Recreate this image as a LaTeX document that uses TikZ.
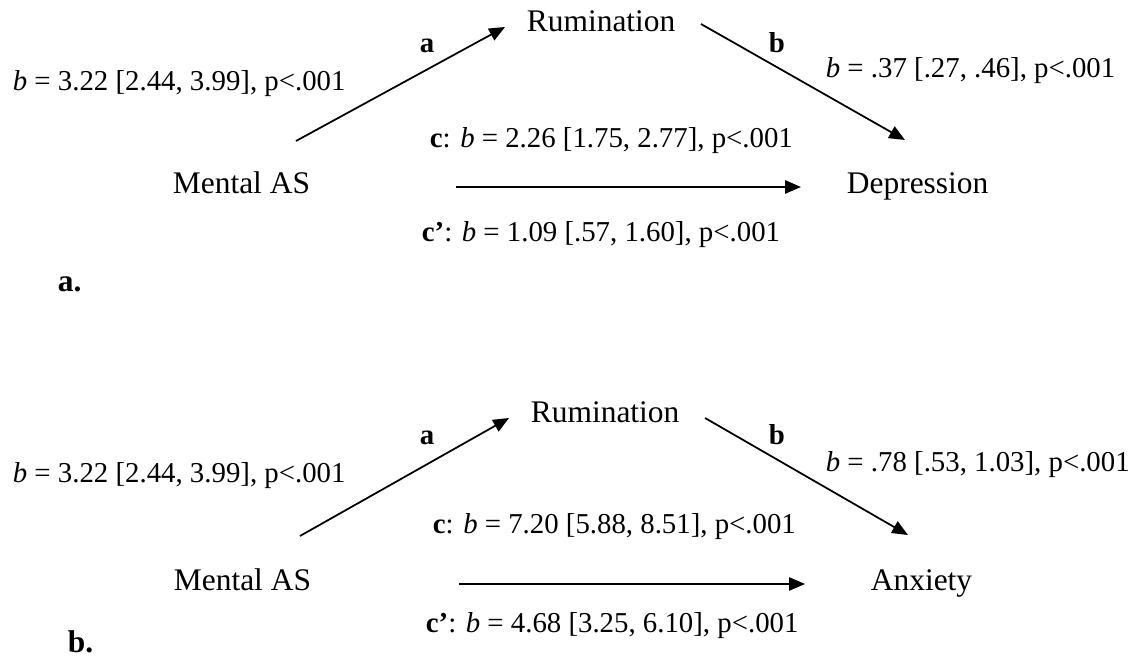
\documentclass[tikz,border=0pt]{standalone}
\usepackage{fontspec}
\setmainfont{Liberation Serif}
\usetikzlibrary{arrows.meta}

\begin{document}
\begin{tikzpicture}[x=0.02cm, y=-0.02cm, >={Triangle[length=9pt,width=7.5pt]}, line width=1pt]

% variable style
\tikzstyle{var} = [
    inner sep=0pt,
    anchor=base west,
    font=\fontsize{17.9}{21}\selectfont
]

% path label style
\tikzstyle{lbl} = [
    inner sep=0pt,
    anchor=base west,
    font=\fontsize{16.4}{19}\selectfont
]

\useasboundingbox (0,0) rectangle (1144,661);

% Panel a: place the nodes.
\node [var] (rum-a) at (526,32) {Rumination};
\node [var] (mas-a) at (172,194) {Mental AS};
\node [var] (dep-a) at (846,194) {Depression};

\node [lbl] (path-a-a) at (419,53) {\textbf{a}};
\node [lbl] (path-b-a) at (768,53) {\textbf{b}};
\node [lbl] (coef-a-a) at (12,91) {\textit{b} = 3.22 [2.44, 3.99], p<.001};
\node [lbl] (coef-b-a) at (825,78) {\textit{b} = .37 [.27, .46], p<.001};
\node [lbl] (coef-c-a) at (429,148) {\textbf{c}: \textit{b} = 2.26 [1.75, 2.77], p<.001};
\node [lbl] (coef-cp-a) at (421,242) {\textbf{c’}: \textit{b} = 1.09 [.57, 1.60], p<.001};
\node [var] (tag-a) at (57,292) {\textbf{a.}};

\coordinate (mas-a-out) at (296,141);
\coordinate (rum-a-in) at (505,27);
\coordinate (rum-a-out) at (701,24);
\coordinate (dep-a-in) at (905,140);
\coordinate (mas-a-right) at (456,187);
\coordinate (dep-a-left) at (801,187);

% Panel a: connect the nodes.
\draw [->] (mas-a-out) -- (rum-a-in);
\draw [->] (rum-a-out) -- (dep-a-in);
\draw [->] (mas-a-right) -- (dep-a-left);

% Panel b: place the nodes.
\node [var] (rum-b) at (530,423) {Rumination};
\node [var] (mas-b) at (173,591) {Mental AS};
\node [var] (anx-b) at (870,591) {Anxiety};

\node [lbl] (path-a-b) at (419,445) {\textbf{a}};
\node [lbl] (path-b-b) at (768,445) {\textbf{b}};
\node [lbl] (coef-a-b) at (12,483) {\textit{b} = 3.22 [2.44, 3.99], p<.001};
\node [lbl] (coef-b-b) at (825,472) {\textit{b} = .78 [.53, 1.03], p<.001};
\node [lbl] (coef-c-b) at (432,534) {\textbf{c}: \textit{b} = 7.20 [5.88, 8.51], p<.001};
\node [lbl] (coef-cp-b) at (425,633) {\textbf{c’}: \textit{b} = 4.68 [3.25, 6.10], p<.001};
\node [var] (tag-b) at (67,653) {\textbf{b.}};

\coordinate (mas-b-out) at (300,536);
\coordinate (rum-b-in) at (509,418);
\coordinate (rum-b-out) at (705,418);
\coordinate (anx-b-in) at (908,535);
\coordinate (mas-b-right) at (459,584);
\coordinate (anx-b-left) at (805,584);

% Panel b: connect the nodes.
\draw [->] (mas-b-out) -- (rum-b-in);
\draw [->] (rum-b-out) -- (anx-b-in);
\draw [->] (mas-b-right) -- (anx-b-left);

\end{tikzpicture}
\end{document}
